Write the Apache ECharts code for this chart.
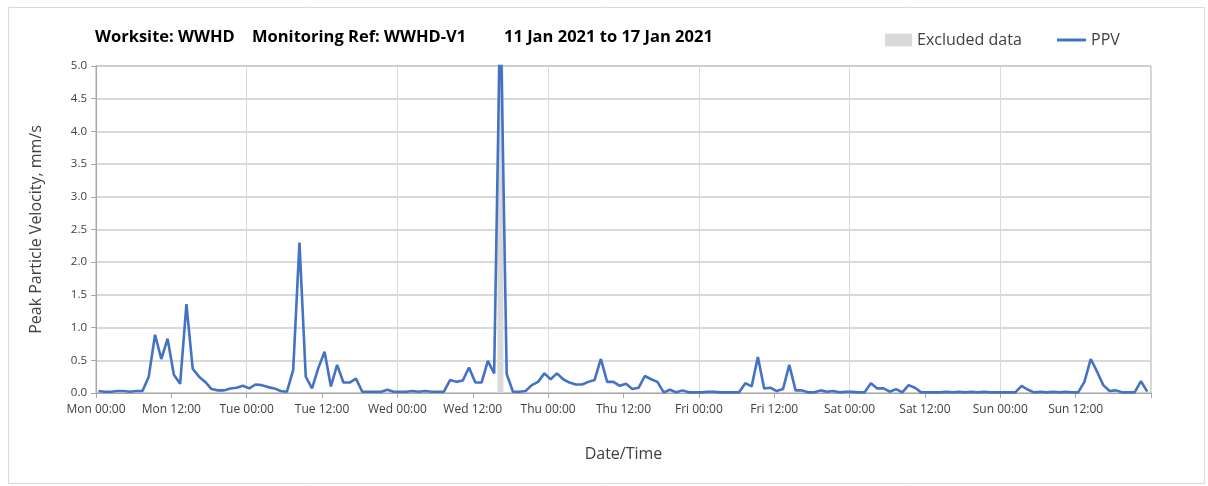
<!DOCTYPE html>
<html><head><meta charset="utf-8">
<script src="https://cdn.jsdelivr.net/npm/echarts@6/dist/echarts.min.js"></script>
<style>html,body{margin:0;padding:0;background:#fff}#c{width:1208px;height:486px}</style>
</head><body><div id="c"></div>
<script>
// Hourly PPV readings (mm/s), one array per day, Mon 11 Jan 2021 .. Sun 17 Jan 2021
const ppvMon = [0.03,0.02,0.02,0.03,0.03,0.02,0.03,0.03,0.25,0.89,0.52,0.83,0.28,0.14,1.36,0.37,0.25,0.17,0.06,0.04,0.04,0.07,0.08,0.11];
const ppvTue = [0.07,0.13,0.12,0.09,0.07,0.03,0.02,0.35,2.30,0.25,0.07,0.38,0.63,0.10,0.43,0.16,0.16,0.22,0.02,0.02,0.02,0.02,0.05,0.02];
const ppvWed = [0.02,0.02,0.03,0.02,0.03,0.02,0.02,0.02,0.20,0.17,0.19,0.39,0.16,0.16,0.49,0.30,6.00,0.29,0.02,0.02,0.03,0.12,0.17,0.30];
const ppvThu = [0.21,0.30,0.21,0.16,0.13,0.13,0.17,0.20,0.52,0.17,0.17,0.11,0.14,0.06,0.08,0.26,0.21,0.17,0.01,0.05,0.01,0.04,0.01,0.01];
const ppvFri = [0.01,0.02,0.02,0.01,0.01,0.01,0.01,0.15,0.10,0.55,0.07,0.08,0.03,0.06,0.43,0.04,0.04,0.01,0.01,0.04,0.02,0.03,0.01,0.02];
const ppvSat = [0.02,0.01,0.01,0.15,0.07,0.07,0.02,0.06,0.01,0.12,0.08,0.01,0.01,0.01,0.01,0.02,0.01,0.02,0.01,0.02,0.01,0.02,0.01,0.01];
const ppvSun = [0.01,0.01,0.01,0.11,0.05,0.01,0.02,0.01,0.02,0.01,0.02,0.01,0.01,0.17,0.52,0.33,0.12,0.03,0.04,0.01,0.01,0.01,0.18,0.02];
// hours (since Mon 00:00) flagged as excluded data
const excludedHours = [64];
// x-axis tick labels every 12 hours
const tickLabels = ['Mon 00:00','Mon 12:00','Tue 00:00','Tue 12:00','Wed 00:00','Wed 12:00','Thu 00:00','Thu 12:00','Fri 00:00','Fri 12:00','Sat 00:00','Sat 12:00','Sun 00:00','Sun 12:00'];
const titleParts = ['Worksite: WWHD', 'Monitoring Ref: WWHD-V1', '11 Jan 2021 to 17 Jan 2021'];

const FONT = '"Open Sans", "Noto Sans", sans-serif';
const sampleOffset = 0.4; // readings are logged a little after each hour
const yMax = 5;
const ppv = [].concat(ppvMon, ppvTue, ppvWed, ppvThu, ppvFri, ppvSat, ppvSun);
const ppvPoints = ppv.map((v, i) => [i + sampleOffset, v]);
const excludedPoints = excludedHours.map(h => [h + sampleOffset, yMax]);

const chart = echarts.init(document.getElementById('c'), null, {renderer: 'canvas'});
chart.setOption({
  animation: false,
  backgroundColor: '#fff',
  textStyle: {fontFamily: FONT},
  graphic: [
    {type: 'rect', left: 6, top: 5, silent: true, shape: {width: 1196, height: 476}, style: {fill: 'none', stroke: '#D9D9D9', lineWidth: 1}},
    {type: 'text', left: 95, top: 29, style: {text: titleParts[0], font: 'bold 16.5px ' + FONT, fill: '#000'}},
    {type: 'text', left: 252, top: 29, style: {text: titleParts[1], font: 'bold 16.5px ' + FONT, fill: '#000'}},
    {type: 'text', left: 504, top: 29, style: {text: titleParts[2], font: 'bold 16.5px ' + FONT, fill: '#000'}}
  ],
  legend: [
    {data: [{name: 'Excluded data', icon: 'rect'}], left: 885, top: 32, padding: 0, itemWidth: 27, itemHeight: 13,
     textStyle: {fontSize: 16, color: '#404040', fontFamily: FONT}},
    {data: [{name: 'PPV', icon: 'rect'}], left: 1057, top: 32, padding: 0, itemWidth: 29, itemHeight: 3,
     textStyle: {fontSize: 16, color: '#404040', fontFamily: FONT}}
  ],
  grid: {left: 96, right: 57, top: 66, bottom: 93, show: true, borderColor: '#A6A6A6', borderWidth: 1},
  xAxis: {
    type: 'value', min: 0, max: 168, interval: 12,
    name: 'Date/Time', nameLocation: 'middle', nameGap: 53,
    nameTextStyle: {fontSize: 16, color: '#404040', fontFamily: FONT},
    axisLine: {lineStyle: {color: '#A6A6A6', width: 1}},
    axisTick: {show: true, length: 5, lineStyle: {color: '#A6A6A6'}},
    axisLabel: {color: '#404040', fontSize: 12, fontFamily: FONT, margin: 11,
      formatter: v => tickLabels[Math.round(v / 12)] || ''},
    splitLine: {show: true, lineStyle: {color: ['#D9D9D9', 'rgba(0,0,0,0)'], width: 1}}
  },
  yAxis: {
    type: 'value', min: 0, max: yMax, interval: 0.5,
    name: 'Peak Particle Velocity, mm/s', nameLocation: 'middle', nameGap: 52, nameRotate: 90,
    nameTextStyle: {fontSize: 16, color: '#404040', fontFamily: FONT},
    axisLine: {show: true, lineStyle: {color: '#A6A6A6', width: 1}},
    axisTick: {show: true, length: 5, lineStyle: {color: '#A6A6A6'}},
    axisLabel: {color: '#404040', fontSize: 11.5, fontFamily: FONT, margin: 9, formatter: v => v.toFixed(1)},
    splitLine: {show: true, lineStyle: {color: '#CCCCCC', width: 1.5}}
  },
  series: [
    {name: 'Excluded data', type: 'bar', data: excludedPoints, barWidth: 6, z: 2,
     itemStyle: {color: '#D9D9D9'}, silent: true},
    {name: 'PPV', type: 'line', data: ppvPoints, showSymbol: false, symbol: 'none', z: 3, clip: true,
     lineStyle: {color: '#4472C4', width: 2.6}, itemStyle: {color: '#4472C4'}}
  ]
});
</script></body></html>
